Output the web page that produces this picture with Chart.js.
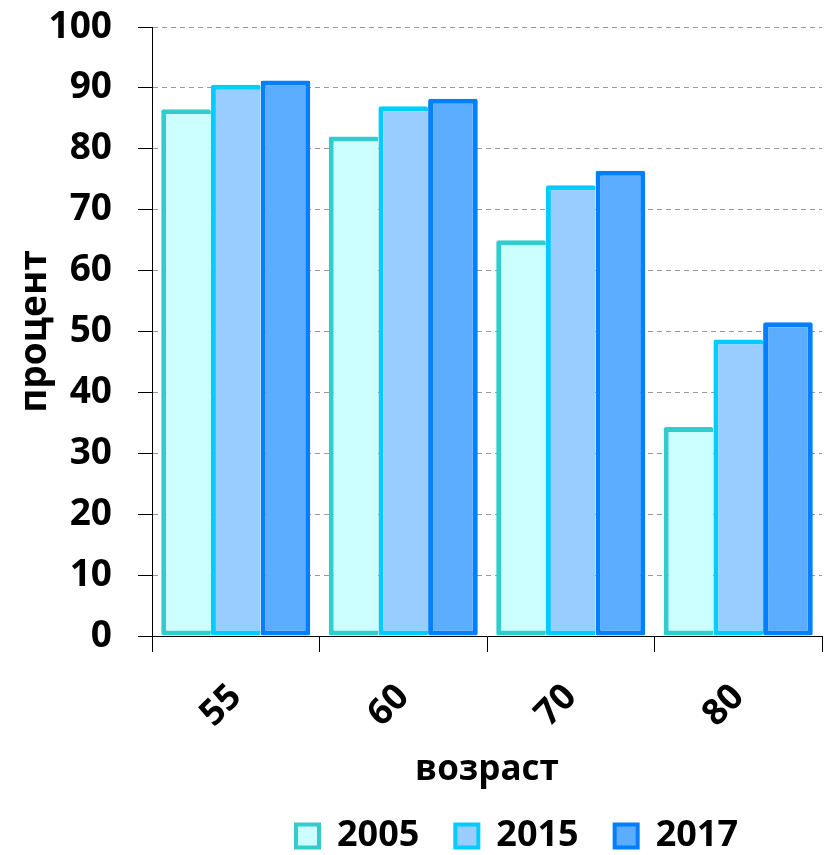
<!DOCTYPE html>
<html><head><meta charset="utf-8">
<script src="https://cdn.jsdelivr.net/npm/chart.js@4/dist/chart.umd.min.js"></script>
<style>html,body{margin:0;padding:0;background:#fff}#wrap{width:829px;height:855px}</style>
</head><body><div id="wrap"><canvas id="c" width="829" height="855"></canvas></div>
<script>
const categories = ['55', '60', '70', '80'];
const seriesNames = ['2005', '2015', '2017'];
const values2005 = [86.5, 82.0, 65.0, 34.3];
const values2015 = [90.5, 87.0, 74.0, 48.7];
const values2017 = [91.2, 88.2, 76.4, 51.5];
const yTicks = [0, 10, 20, 30, 40, 50, 60, 70, 80, 90, 100];
const yTitle = 'процент';
const xTitle = 'возраст';

const FONT = 'Open Sans';
const fills = ['#CCFFFF', '#99CCFF', '#5CADFF'];
const borders = ['#33CCCC', '#00CCFF', '#0080FF'];
const series = [values2005, values2015, values2017];

const legendShift = {
  id: 'legendShift',
  afterLayout(chart) {
    const lg = chart.legend;
    if (!lg) return;
    lg.left += 106; lg.right += 106;
    lg.top += 9; lg.bottom += 9;
  }
};

new Chart(document.getElementById('c'), {
  type: 'bar',
  data: {
    labels: categories,
    datasets: series.map((v, i) => ({
      label: seriesNames[i],
      data: v,
      backgroundColor: fills[i],
      borderColor: borders[i],
      borderWidth: { top: 5, bottom: 5, left: 5, right: i === 2 ? 5 : 0 },
      borderSkipped: false,
      borderRadius: 2,
      inflateAmount: 0,
      categoryPercentage: 0.89,
      barPercentage: 1.0
    }))
  },
  plugins: [legendShift],
  options: {
    responsive: false,
    animation: false,
    devicePixelRatio: 1,
    layout: { padding: { left: 0, right: 7, top: 27, bottom: 0 } },
    plugins: {
      tooltip: { enabled: false },
      legend: {
        position: 'bottom',
        labels: {
          color: '#000',
          font: { family: FONT, size: 36, weight: 'bold' },
          boxWidth: 23, boxHeight: 23,
          padding: 36,
          generateLabels: (chart) => {
            const items = Chart.defaults.plugins.legend.labels.generateLabels(chart);
            items.forEach(it => { it.lineWidth = 4; });
            return items;
          }
        }
      }
    },
    scales: {
      x: {
        grid: { display: true, offset: true, drawOnChartArea: false, drawTicks: true, tickLength: 16, color: '#000', tickColor: '#000' },
        border: { color: '#000', width: 1 },
        ticks: { color: '#000', font: { family: FONT, size: 36, weight: 'bold' }, minRotation: 45, maxRotation: 45, padding: 24, labelOffset: 0 },
        title: { display: true, text: xTitle, color: '#000', font: { family: FONT, size: 35, weight: 'bold' }, padding: { top: 0, bottom: -18 } },
        afterFit: s => { s.height = 137; s.paddingLeft = 0; s.paddingRight = 0; }
      },
      y: {
        min: 0, max: 100,
        afterBuildTicks: s => { s.ticks = yTicks.map(v => ({ value: v })); },
        grid: { color: '#999', tickColor: '#000', tickLength: 14, tickBorderDash: [], lineWidth: 1 },
        border: { color: '#000', width: 1, dash: [5, 4] },
        ticks: { color: '#000', font: { family: FONT, size: 37, weight: 'bold' }, padding: 26 },
        title: { display: true, text: yTitle, color: '#000', font: { family: FONT, size: 37, weight: 'bold' }, padding: { top: 13, bottom: 0 } },
        afterFit: s => { s.width = 152; s.paddingTop = 0; s.paddingBottom = 0; }
      }
    }
  }
});
</script></body></html>
